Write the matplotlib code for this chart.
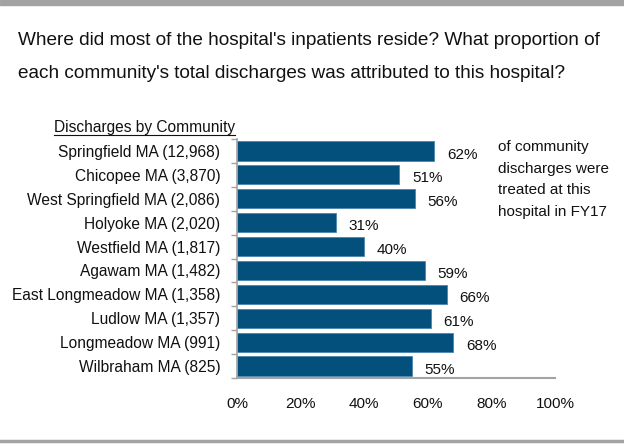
import matplotlib
matplotlib.use("Agg")
import matplotlib.pyplot as plt
from matplotlib.lines import Line2D
from matplotlib.patches import Rectangle

plt.rcParams["font.family"] = ["Liberation Sans", "DejaVu Sans"]

communities = [
    "Springfield MA (12,968)",
    "Chicopee MA (3,870)",
    "West Springfield MA (2,086)",
    "Holyoke MA (2,020)",
    "Westfield MA (1,817)",
    "Agawam MA (1,482)",
    "East Longmeadow MA (1,358)",
    "Ludlow MA (1,357)",
    "Longmeadow MA (991)",
    "Wilbraham MA (825)",
]
share_pct = [62, 51, 56, 31, 40, 59, 66, 61, 68, 55]
x_ticks = [0, 20, 40, 60, 80, 100]

bar_color = "#03507d"
text_color = "#111111"
gray = "#a3a3a6"

fig = plt.figure(figsize=(6.24, 4.45), dpi=100)

# top band and bottom rule
fig.patches.append(Rectangle((0, 1 - 5 / 445), 1, 5 / 445, transform=fig.transFigure,
                             color=gray, zorder=0))
fig.lines.append(Line2D([0, 1], [1 - 441 / 445] * 2, transform=fig.transFigure,
                        color=gray, lw=2.5))

fig.text(18 / 624, 1 - 45 / 445,
         "Where did most of the hospital's inpatients reside? What proportion of",
         fontsize=13.65, color=text_color, va="baseline", ha="left")
fig.text(18 / 624, 1 - 78 / 445,
         "each community's total discharges was attributed to this hospital?",
         fontsize=13.65, color=text_color, va="baseline", ha="left")

ax = fig.add_axes([237 / 624, 67 / 445, 318 / 624, 239 / 445])
y = list(range(len(communities)))
ax.barh(y, share_pct, height=0.8, color=bar_color, edgecolor="#4a86ad", linewidth=0.6)
for yi, v in zip(y, share_pct):
    ax.text(v + 4, yi + 0.15, f"{v}%", va="center", ha="left", fontsize=11, color=text_color)

ax.set_xlim(0, 100)
ax.set_ylim(len(communities) - 0.5, -0.5)
ax.set_yticks(y)
ax.set_yticklabels(communities, fontsize=11.2, color=text_color)
ax.set_yticks([i - 0.5 for i in range(len(communities) + 1)], minor=True)
ax.tick_params(axis="y", which="major", length=0, pad=12)
ax.tick_params(axis="y", which="minor", length=4, color=gray, width=1)
ax.set_xticks(x_ticks)
ax.set_xticklabels([f"{t}%" for t in x_ticks], fontsize=11, color=text_color)
ax.tick_params(axis="x", length=0, pad=14)
for s in ["top", "right"]:
    ax.spines[s].set_visible(False)
ax.spines["left"].set_color(gray)
ax.spines["bottom"].set_color(gray)
ax.spines["left"].set_linewidth(1.2)
ax.spines["bottom"].set_linewidth(1.5)

fig.text(498 / 624, 1 - 140 / 445,
         "of community\ndischarges were\ntreated at this\nhospital in FY17",
         fontsize=11, color=text_color, va="top", ha="left", linespacing=1.7)

hdr = fig.text(235 / 624, 1 - 132 / 445, "Discharges by Community", fontsize=11.2,
               color=text_color, ha="right", va="baseline")
fig.canvas.draw()
bb = hdr.get_window_extent().transformed(fig.transFigure.inverted())
uy = 1 - 134.5 / 445
fig.lines.append(Line2D([bb.x0, bb.x1], [uy, uy], transform=fig.transFigure,
                        color=text_color, lw=0.8))

fig.savefig("out.png", dpi=100)
